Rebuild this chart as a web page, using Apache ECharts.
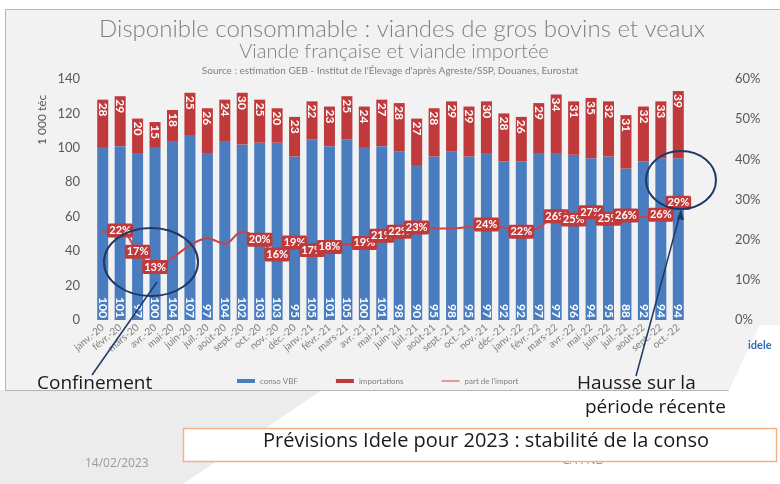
<!DOCTYPE html>
<html>
<head>
<meta charset="utf-8">
<script src="https://cdn.jsdelivr.net/npm/echarts@6/dist/echarts.min.js"></script>
<style>
  html, body { margin: 0; padding: 0; background: #fff; }
  #main { width: 780px; height: 484px; }
</style>
</head>
<body>
<div id="main"></div>
<script>
// catégories (mois)
let months = [
  'janv.-20', 'févr.-20', 'mars-20', 'avr.-20', 'mai-20', 'juin-20', 'juil.-20', 'août-20', 'sept.-20', 'oct.-20', 'nov.-20', 'déc.-20',
  'janv.-21', 'févr.-21', 'mars-21', 'avr.-21', 'mai-21', 'juin-21', 'juil.-21', 'août-21', 'sept.-21', 'oct.-21', 'nov.-21', 'déc.-21',
  'janv.-22', 'févr.-22', 'mars-22', 'avr.-22', 'mai-22', 'juin-22', 'juil.-22', 'août-22', 'sept.-22', 'oct.-22'
]
// conso VBF (1 000 téc)
let consoVbf = [100, 101, 97, 100, 104, 107, 97, 104, 102, 103, 103, 95, 105, 101, 105, 100, 101, 98, 90, 95, 98, 95,
  97, 92, 92, 97, 97, 96, 94, 95, 88, 92, 94, 94]
// importations (1 000 téc)
let imports = [28, 29, 20, 15, 18, 25, 26, 24, 30, 25, 20, 23, 22, 23, 25, 24, 27, 28, 27, 28, 29, 29,
  30, 28, 26, 29, 34, 31, 35, 32, 31, 32, 33, 39]
// part de l'import (%)
let partImport = [22, 22.3, 17, 13.2, 15.5, 18.6, 20.3, 19, 22, 20, 16.3, 19.3, 17.4, 18.2, 18.8, 19.2, 21, 22, 23, 22.8, 22.8, 23.2,
  23.8, 23, 22, 23, 25.8, 25, 26.8, 25.2, 26, 25.7, 26.2, 29.2]
// points dont l'étiquette est affichée
let pctShown = [1, 2, 3, 9, 10, 11, 12, 13, 15, 16, 17, 18, 22, 24, 26, 27, 28, 29, 30, 32, 33]
// graduations
let leftTicks = { min: 0, max: 140, interval: 20 }
let rightTicks = { min: 0, max: 60, interval: 10 }

const BLUE = '#4a7dbf'
const RED = '#c0393b'
const NAVY = '#1f3864'
const FONT = 'Lato'
const NOTE_FONT = 'Open Sans'

let chart = echarts.init(document.getElementById('main'))

let lineData = partImport.map(function (v, i) {
  return {
    value: v,
    label: { show: pctShown.indexOf(i) >= 0 }
  }
})

chart.setOption({
  backgroundColor: '#ffffff',
  textStyle: { fontFamily: FONT },
  grid: {
    left: 94,
    right: 93,
    top: 79,
    bottom: 164
  },
  legend: {
    left: 232,
    top: 372,
    itemGap: 38,
    itemWidth: 18,
    itemHeight: 4,
    textStyle: { fontSize: 8, color: '#7f7f7f', fontFamily: FONT },
    data: [
      { name: 'conso VBF', icon: 'rect' },
      { name: 'importations', icon: 'rect' },
      { name: "part de l'import", icon: 'path://M0,0H1V0.01H0ZM0,1.5H20V2.5H0ZM0,3.99H1V4H0Z' }
    ]
  },
  xAxis: {
    type: 'category',
    data: months,
    axisLine: { show: false },
    axisTick: { show: false },
    axisLabel: {
      interval: 0,
      rotate: 40,
      fontSize: 10,
      color: '#7f7f7f',
      margin: 6
    }
  },
  yAxis: [{
    type: 'value',
    min: leftTicks.min,
    max: leftTicks.max,
    interval: leftTicks.interval,
    axisLine: { show: false },
    axisTick: { show: false },
    splitLine: { show: false },
    axisLabel: { fontSize: 13, color: '#595959', margin: 14 }
  }, {
    type: 'value',
    min: rightTicks.min,
    max: rightTicks.max,
    interval: rightTicks.interval,
    axisLine: { show: false },
    axisTick: { show: false },
    splitLine: { show: false },
    axisLabel: { fontSize: 13, color: '#595959', margin: 48, formatter: '{value}%' }
  }],
  series: [{
    name: 'conso VBF',
    type: 'bar',
    stack: 'dispo',
    barWidth: 11,
    itemStyle: { color: BLUE },
    label: {
      show: true,
      position: 'insideBottom',
      distance: 2,
      rotate: -90,
      align: 'right',
      verticalAlign: 'middle',
      color: '#fff',
      fontSize: 12,
      fontWeight: 'bold',
      fontFamily: FONT
    },
    data: consoVbf
  }, {
    name: 'importations',
    type: 'bar',
    stack: 'dispo',
    barWidth: 11,
    itemStyle: { color: RED },
    label: {
      show: true,
      position: 'insideTop',
      distance: 3,
      rotate: -90,
      align: 'left',
      verticalAlign: 'middle',
      color: '#fff',
      fontSize: 12,
      fontWeight: 'bold',
      fontFamily: FONT
    },
    data: imports
  }, {
    name: "part de l'import",
    type: 'line',
    yAxisIndex: 1,
    smooth: 0.4,
    symbol: 'circle',
    symbolSize: 2,
    showSymbol: true,
    itemStyle: { color: '#c94446' },
    lineStyle: { color: '#c94446', width: 2 },
    label: {
      position: 'inside',
      formatter: function (p) { return Math.round(p.value) + '%' },
      color: '#fff',
      fontSize: 11,
      fontWeight: 'bold',
      fontFamily: FONT,
      backgroundColor: RED,
      padding: [2, 2, 1, 2],
      borderRadius: 2
    },
    data: lineData,
    z: 5
  }],
  graphic: [
    // fond de la diapo
    { type: 'polygon', z: -20, shape: { points: [[0, 390], [322, 390], [183, 484], [0, 484]] }, style: { fill: '#ececec' } },
    { type: 'rect', z: -10, shape: { x: 5.5, y: 9.5, width: 790, height: 381 }, style: { fill: '#f2f2f2', stroke: '#b5b5b5', lineWidth: 1 } },
    // titres
    { type: 'text', x: 402, y: 17, style: { text: 'Disponible consommable : viandes de gros bovins et veaux', fontSize: 24, fontWeight: 300, fontFamily: FONT, fill: '#808080', align: 'center' } },
    { type: 'text', x: 394, y: 42, style: { text: 'Viande française et viande importée', fontSize: 20, fontWeight: 300, fontFamily: FONT, fill: '#808080', align: 'center' } },
    { type: 'text', x: 390, y: 66, style: { text: "Source : estimation GEB - Institut de l'Élevage d'après Agreste/SSP, Douanes, Eurostat", fontSize: 10, fontFamily: FONT, fill: '#808080', align: 'center' } },
    { type: 'text', x: 36, y: 145, rotation: Math.PI / 2, style: { text: '1 000 téc', fontSize: 12, fontFamily: FONT, fill: '#595959' } },
    // logo
    { type: 'polygon', z: -5, shape: { points: [[728, 392], [760, 325], [780, 325], [780, 392]] }, style: { fill: '#ffffff' } },
    { type: 'text', x: 748, y: 340, style: { text: 'idele', fontSize: 11, fontWeight: 'bold', fontFamily: FONT, fill: '#2e6db4' } },
    // annotations
    { type: 'ellipse', z: 50, shape: { cx: 151, cy: 262, rx: 47, ry: 34 }, style: { fill: 'none', stroke: NAVY, lineWidth: 2 } },
    { type: 'ellipse', z: 50, shape: { cx: 681, cy: 180, rx: 35, ry: 29 }, style: { fill: 'none', stroke: NAVY, lineWidth: 2 } },
    { type: 'line', z: 50, shape: { x1: 92, y1: 375, x2: 157, y2: 282 }, style: { stroke: NAVY, lineWidth: 1.5 } },
    { type: 'line', z: 50, shape: { x1: 636, y1: 376, x2: 680, y2: 214 }, style: { stroke: NAVY, lineWidth: 1.5 } },
    { type: 'polygon', z: 50, shape: { points: [[681, 209], [677, 219], [684, 220]] }, style: { fill: NAVY } },
    { type: 'text', z: 50, x: 37, y: 374, style: { text: 'Confinement', fontSize: 19, fontFamily: NOTE_FONT, fill: '#1a1a1a' } },
    { type: 'text', z: 50, x: 577, y: 374, style: { text: 'Hausse sur la', fontSize: 19, fontFamily: NOTE_FONT, fill: '#1a1a1a' } },
    { type: 'text', z: 50, x: 585, y: 398, style: { text: 'période récente', fontSize: 19, fontFamily: NOTE_FONT, fill: '#1a1a1a' } },
    // bas de diapo
    { type: 'text', z: 40, x: 85, y: 458, style: { text: '14/02/2023', fontSize: 12, fontFamily: NOTE_FONT, fill: '#9a9a9a' } },
    { type: 'text', z: 40, x: 562, y: 455, style: { text: 'CA FNB', fontSize: 12, fontFamily: NOTE_FONT, fill: '#9a9a9a' } },
    { type: 'rect', z: 45, shape: { x: 183.5, y: 428.5, width: 593, height: 33 }, style: { fill: '#ffffff', stroke: '#f4b183', lineWidth: 1.5 } },
    { type: 'text', z: 46, x: 486, y: 431, style: { text: 'Prévisions Idele pour 2023 : stabilité de la conso', fontSize: 20, fontFamily: NOTE_FONT, fill: '#1a1a1a', align: 'center' } }
  ]
})
</script>
</body>
</html>
